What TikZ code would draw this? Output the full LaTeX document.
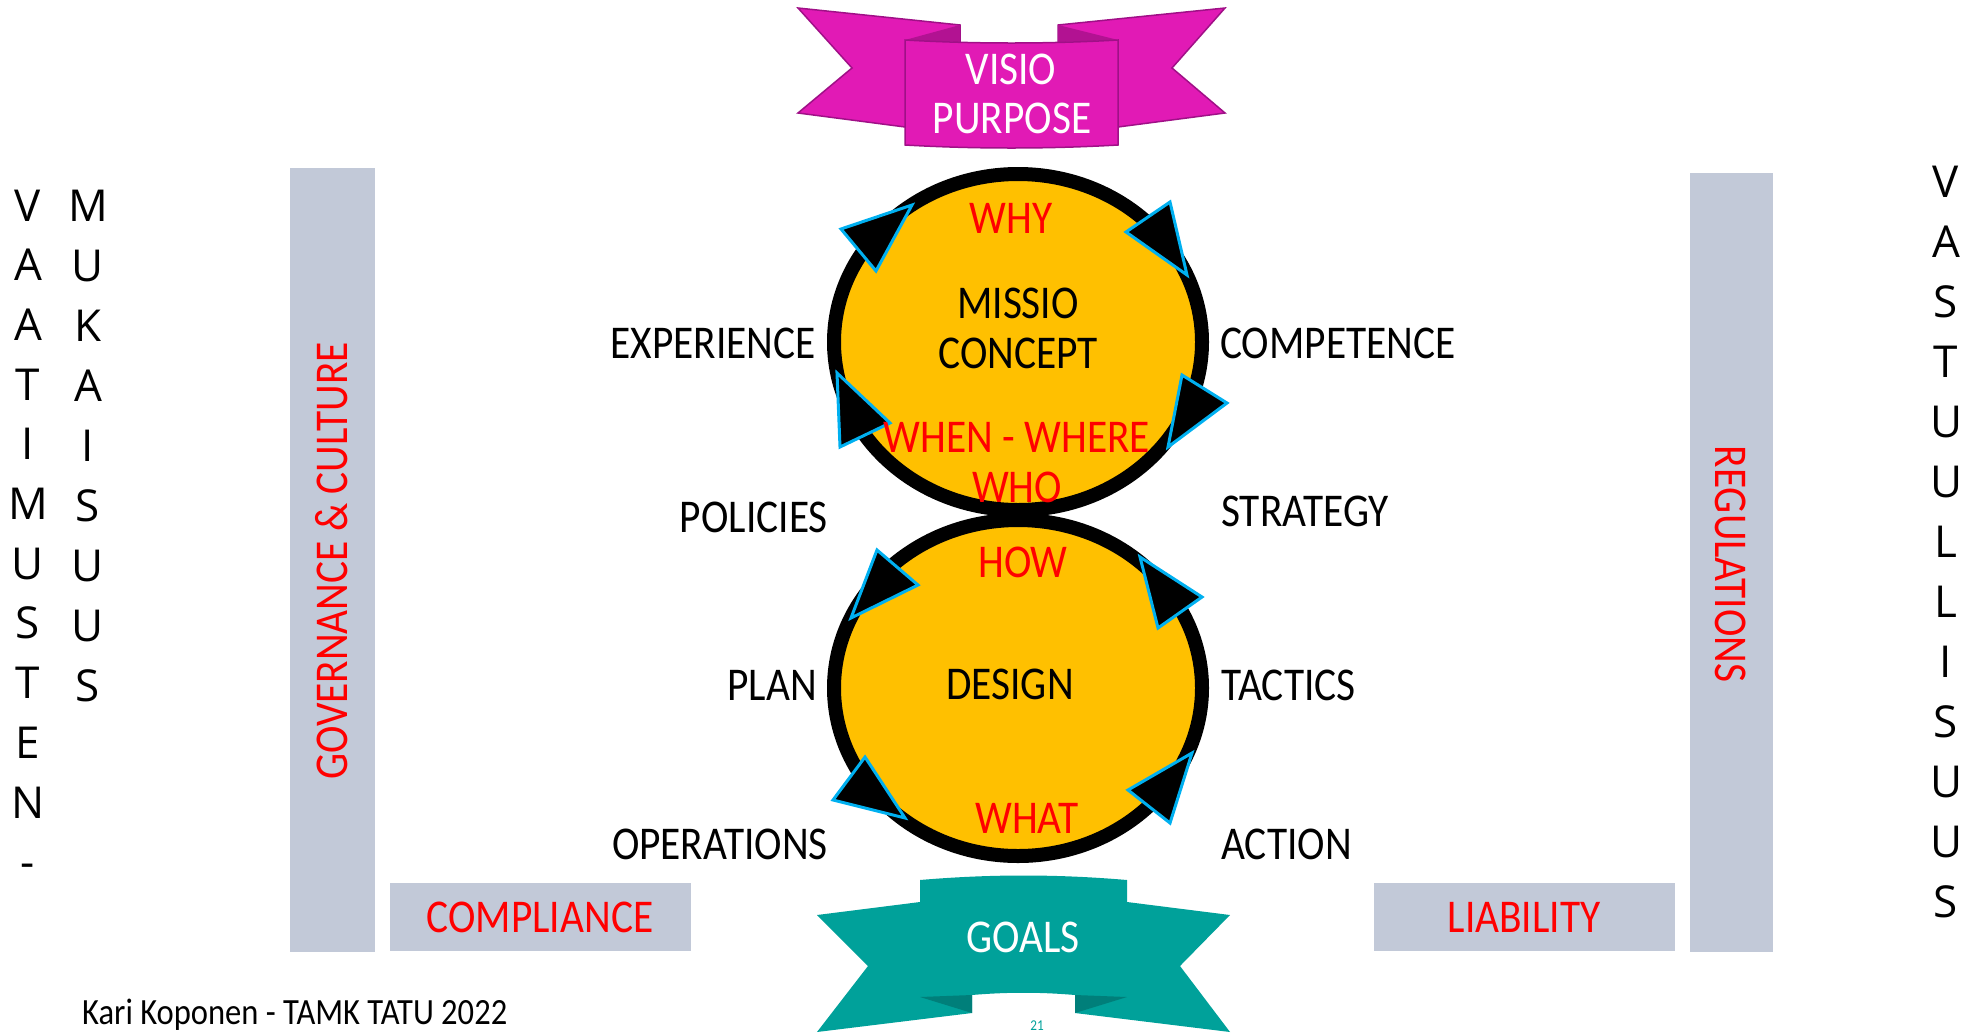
\documentclass[tikz,border=0pt]{standalone}
\usepackage{fontspec}
\setmainfont[FakeStretch=0.88]{Carlito}
\newfontfamily\letterfont{Open Sans}
\usepackage{xcolor}
\usepackage{tikz}
\usetikzlibrary{calc}

\definecolor{ribbonpink}{RGB}{225,26,181}
\definecolor{foldpink}{RGB}{178,18,146}
\definecolor{edgepink}{RGB}{160,16,135}
\definecolor{ribbonteal}{RGB}{0,161,154}
\definecolor{foldteal}{RGB}{0,127,122}
\definecolor{circleyellow}{RGB}{255,192,0}
\definecolor{arrowcyan}{RGB}{0,176,240}
\definecolor{bargray}{RGB}{194,201,216}

\begin{document}
\begin{tikzpicture}[x=1pt,y=-1pt,every node/.style={inner sep=0pt},
  lbl/.style={font=\fontsize{47}{50}\selectfont},
  redlbl/.style={lbl,text=red},
  whitelbl/.style={lbl,text=white},
  tip/.style={fill=black,draw=arrowcyan,line width=3pt,line join=miter},
  bar/.style={fill=bargray},
  vletter/.style={font=\letterfont\fontsize{44}{48}\selectfont,anchor=base}]

\useasboundingbox (0,0) rectangle (1977,1034);

\pgfmathsetmacro{\CX}{1018}
\pgfmathsetmacro{\UY}{342}
\pgfmathsetmacro{\LY}{688}
\pgfmathsetmacro{\RX}{184}
\pgfmathsetmacro{\RY}{168}

% grey bars and boxes
\fill[bar] (290,168) rectangle (375,952);
\fill[bar] (1690,173) rectangle (1773,952);
\fill[bar] (390,883) rectangle (691,951);
\fill[bar] (1374,883) rectangle (1675,951);

\draw (332,561) node (gov) [redlbl,rotate=90] {GOVERNANCE \& CULTURE};
\draw (1731,564) node (reg) [redlbl,rotate=-90] {REGULATIONS};
\draw (540,917) node (compl) [redlbl] {COMPLIANCE};
\draw (1524,917) node (liab) [redlbl] {LIABILITY};

% top ribbon
\filldraw[fill=ribbonpink,draw=edgepink,line width=1.5pt] (798,8) -- (960,25) -- (960,42) -- (905,127) -- (798,113) -- (852,68) -- cycle;
\filldraw[fill=ribbonpink,draw=edgepink,line width=1.5pt] (1225,8) -- (1058,25) -- (1058,42) -- (1118,127) -- (1225,113) -- (1172,68) -- cycle;
\fill[foldpink] (905,40) -- (960,25) -- (960,42) -- cycle;
\fill[foldpink] (1118,40) -- (1058,25) -- (1058,42) -- cycle;
\filldraw[fill=ribbonpink,draw=edgepink,line width=1.5pt] (905,40) .. controls (975,44) and (1048,44) .. (1118,40) -- (1118,145) .. controls (1048,149) and (975,149) .. (905,145) -- cycle;
\draw (1011,69) node (visio) [whitelbl] {VISIO};
\draw (1012,118) node (purp) [whitelbl] {PURPOSE};

% bottom ribbon
\fill[ribbonteal] (817,915) -- (920,902) -- (920,880) .. controls (990,874) and (1057,874) .. (1127,880) -- (1127,902) -- (1230,915) -- (1180,966) -- (1230,1032) -- (1075,1013) -- (1075,995) .. controls (1040,992) and (1007,992) .. (972,995) -- (972,1013) -- (817,1032) -- (868,966) -- cycle;
\fill[foldteal] (920,997) -- (972,995) -- (972,1013) -- cycle;
\fill[foldteal] (1127,997) -- (1075,995) -- (1075,1013) -- cycle;
\draw (1023,937) node (goals) [whitelbl] {GOALS};

% the two circles
\draw[line width=14pt,fill=circleyellow] (\CX,\UY) ellipse [x radius=\RX, y radius=\RY];
\draw[line width=14pt,fill=circleyellow] (\CX,\LY) ellipse [x radius=\RX, y radius=\RY];

% arrow heads, upper circle
\filldraw[tip] (841,229) -- (912,205) -- (876,271) -- cycle;
\filldraw[tip] (1170,202) -- (1187,275) -- (1126,232) -- cycle;
\filldraw[tip] (1182,375) -- (1227,403) -- (1168,447) -- cycle;
\filldraw[tip] (837,373) -- (890,423) -- (840,447) -- cycle;
% arrow heads, lower circle
\filldraw[tip] (877,550) -- (918,585) -- (851,618) -- cycle;
\filldraw[tip] (1140,557) -- (1202,597) -- (1158,628) -- cycle;
\filldraw[tip] (865,757) -- (905,818) -- (833,800) -- cycle;
\filldraw[tip] (1192,753) -- (1170,823) -- (1128,790) -- cycle;

% circle texts
\draw (1011,218) node (why) [redlbl] {WHY};
\draw (1018,303) node (missio) [lbl] {MISSIO};
\draw (1018,353) node (concept) [lbl] {CONCEPT};
\draw (1017,437) node (whenwhere) [redlbl] {WHEN - WHERE};
\draw (1017,487) node (who) [redlbl] {WHO};
\draw (1023,562) node (how) [redlbl] {HOW};
\draw (1010,684) node (design) [lbl] {DESIGN};
\draw (1027,818) node (what) [redlbl] {WHAT};

% side words
\draw (816,343) node (exper) [lbl,anchor=east] {EXPERIENCE};
\draw (1220,343) node (compet) [lbl,anchor=west] {COMPETENCE};
\draw (828,517) node (polic) [lbl,anchor=east] {POLICIES};
\draw (1221,511) node (strat) [lbl,anchor=west] {STRATEGY};
\draw (817,685) node (plan) [lbl,anchor=east] {PLAN};
\draw (1221,685) node (tact) [lbl,anchor=west] {TACTICS};
\draw (828,844) node (oper) [lbl,anchor=east] {OPERATIONS};
\draw (1221,844) node (action) [lbl,anchor=west] {ACTION};

% letter columns
\foreach \ch [count=\i] in {V,A,A,T,I,M,U,S,T,E,N,-}
  \node (vaat\i) [vletter] at (28,{221+(\i-1)*59.7}) {\ch};
\foreach \ch [count=\i] in {M,U,K,A,I,S,U,U,S}
  \node (muka\i) [vletter] at (88,{221+(\i-1)*60.1}) {\ch};
\foreach \ch [count=\i] in {V,A,S,T,U,U,L,L,I,S,U,U,S}
  \node (vast\i) [vletter] at (1946,{197+(\i-1)*60}) {\ch};

% footer
\draw (82,1024) node (author) [anchor=base west,font=\fontsize{37}{40}\selectfont] {Kari Koponen - TAMK TATU 2022};
\draw (1037,1031) node (pagenr) [anchor=south,text=ribbonteal,font=\fontsize{15}{18}\selectfont] {21};
\end{tikzpicture}
\end{document}
